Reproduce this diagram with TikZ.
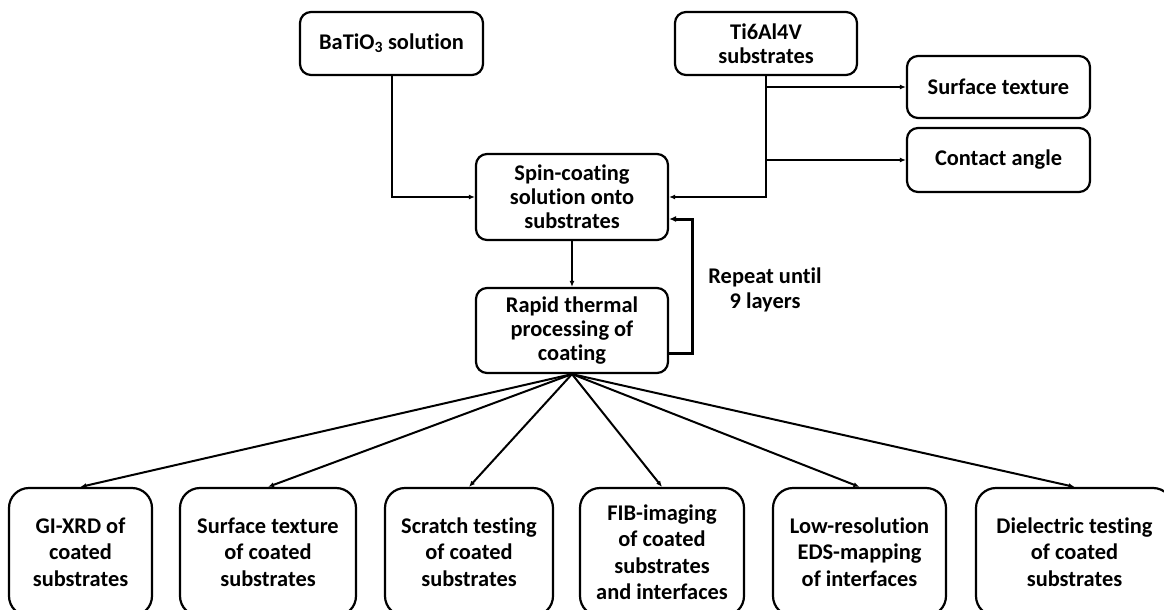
\documentclass[tikz,border=0pt]{standalone}
\usepackage{fontspec}
\setmainfont{Carlito}[Ligatures={NoCommon}]
\usetikzlibrary{arrows.meta,calc}
\begin{document}
\begin{tikzpicture}[x=1pt,y=-1pt,
  box/.style={draw,line width=2.2pt,rounded corners=11pt,align=center,inner sep=0pt,
    font=\bfseries\fontsize{22.4}{23.8}\selectfont},
  bbox/.style={draw,line width=2.2pt,rounded corners=20pt,align=center,inner sep=0pt,
    minimum height=128pt,font=\bfseries\fontsize{22.4}{26.5}\selectfont},
  arr/.style={line width=2pt,-{Latex[length=6pt,width=5pt]}},
  fb/.style={line width=3pt,-{Latex[length=7pt,width=6pt]}},
  lbl/.style={align=center,inner sep=0pt,font=\bfseries\fontsize{22.4}{25}\selectfont}]
\useasboundingbox (0,0) rectangle (1164,610);
\fill[white] (0,0) rectangle (1164,610);
% top boxes
\node[box,minimum width=183pt,minimum height=63pt] (bat) at (391.5,43.5) {BaTiO\textsubscript{3} solution};
\node[box,minimum width=182pt,minimum height=63pt] (ti) at (766,43.5) {Ti6Al4V\\substrates};
\node[box,minimum width=183pt,minimum height=62pt] (st) at (998.5,87) {Surface texture};
\node[box,minimum width=183pt,minimum height=64pt] (ca) at (998.5,160) {Contact angle};
\node[box,minimum width=192pt,minimum height=86pt] (spin) at (572,197) {Spin-coating\\solution onto\\substrates};
\node[box,minimum width=192pt,minimum height=85pt] (rtp) at (572,330.5) {Rapid thermal\\processing of\\coating};
\node[lbl] (rep) at (765,290) {Repeat until\\9 layers};
% bottom boxes
\node[bbox,minimum width=143pt] (b1) at (80.5,552) {GI-XRD of\\coated\\substrates};
\node[bbox,minimum width=176pt] (b2) at (268,552) {Surface texture\\of coated\\substrates};
\node[bbox,minimum width=168pt] (b3) at (469,552) {Scratch testing\\of coated\\substrates};
\node[bbox,minimum width=164pt] (b4) at (662,552) {FIB-imaging\\of coated\\substrates\\and interfaces};
\node[bbox,minimum width=173pt] (b5) at (859.5,552) {Low-resolution\\EDS-mapping\\of interfaces};
\node[bbox,minimum width=197pt] (b6) at (1074.5,552) {Dielectric testing\\of coated\\substrates};
% connectors
\draw[arr] (bat.south) |- (spin.west);
\draw[arr] (ti.south) |- (spin.east);
\draw[arr] (ti.south |- st.west) -- (st.west);
\draw[arr] (ti.south |- ca.west) -- (ca.west);
\draw[arr] (spin.south) -- (rtp.north);
\coordinate (fbc) at (692,280);
\draw[fb] ([yshift=-22.5pt]rtp.east) -| (fbc) |- ([yshift=-22pt]spin.east);
\foreach \b in {b1,b2,b3,b4,b5,b6}{
  \draw[arr] (rtp.south) -- (\b.north);
}
\end{tikzpicture}
\end{document}
